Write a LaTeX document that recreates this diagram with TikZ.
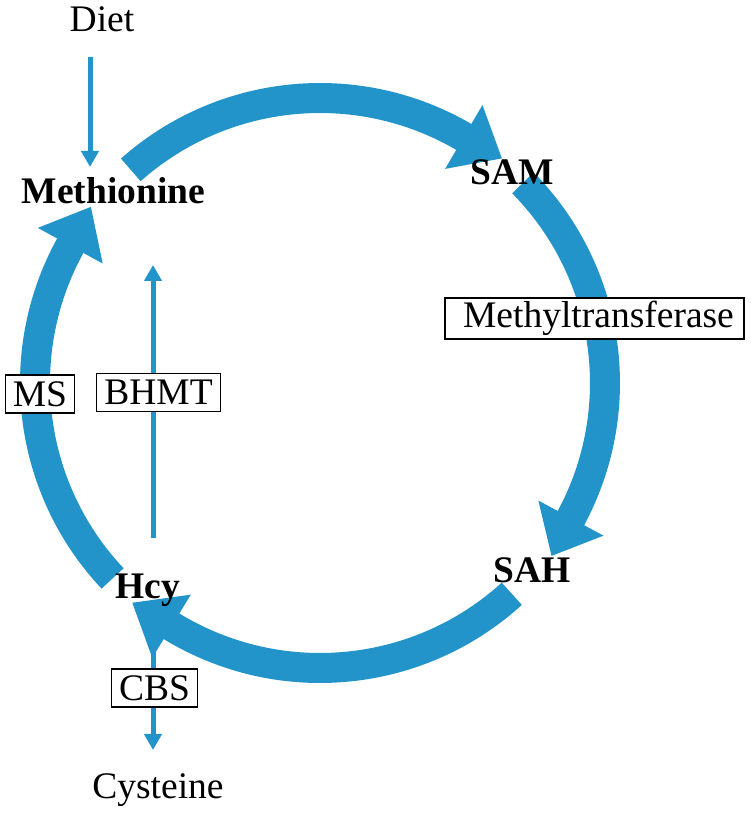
\documentclass[tikz,border=0pt]{standalone}
\usepackage{fontspec}
\setmainfont{Liberation Serif}
\usetikzlibrary{arrows.meta,calc}
\definecolor{cyc}{RGB}{35,148,201}
\newcommand\cycarrow[3]{%
  \draw[band] ($(C)+(#1:285)$) arc[start angle=#1, end angle=#2-1.5, radius=285];
  \fill[head] ($(C)+(#2:248)$) -- ($(C)+(#3:289)$) -- ($(C)+(#2:322)$) -- cycle;}
\begin{document}
\begin{tikzpicture}[x=1pt,y=1pt,
  band/.style={draw=cyc, line width=30pt},
  head/.style={fill=cyc},
  thinarrow/.style={draw=cyc, line width=5pt, -{Triangle[width=17pt,length=16pt]}},
  lbl/.style={font=\fontsize{37.5}{40}\selectfont, inner sep=0pt},
  metab/.style={font=\fontsize{37.5}{40}\selectfont\bfseries, inner sep=0pt},
  enz/.style={draw=black, line width=1.3pt, fill=white, font=\fontsize{37.5}{40}\selectfont,
              inner xsep=7.5pt, inner ysep=0pt, minimum height=38pt}]
\useasboundingbox (0,0) rectangle (750,814);
\coordinate (C) at (320,431);
% thin arrows
\coordinate (d0) at (90,757); \coordinate (d1) at (90,647);
\coordinate (b0) at (153,276); \coordinate (b1) at (153,549);
\coordinate (c0) at (153,189); \coordinate (c1) at (153,64);
\draw[thinarrow] (d0) -- (d1);
\draw[thinarrow] (b0) -- (b1);
\draw[thinarrow] (c0) -- (c1);
% cycle arrows
\cycarrow{131.6}{59.7}{51.0}
\cycarrow{44.6}{-28.3}{-36.75}
\cycarrow{-47.7}{-121.4}{-130.5}
\cycarrow{223.3}{151.2}{142.45}
% enzyme boxes
\node[enz, minimum width=299pt, minimum height=41pt] (mt) at (594.5,495.5) {\hspace{8pt}Methyltransferase};
\node[enz] (ms) at (40,420) {MS};
\node[enz] (bhmt) at (158.5,421.5) {BHMT};
\node[enz] (cbs) at (154.5,126) {CBS};
% metabolites
\node[lbl, anchor=base] (diet) at (102,782) {Diet};
\node[metab, anchor=base] (met) at (113.5,610) {Methionine};
\node[metab, anchor=base] (sam) at (512,629) {SAM};
\node[metab, anchor=base] (sah) at (532,231) {SAH};
\node[metab, anchor=base] (hcy) at (147.5,215) {Hcy};
\node[lbl, anchor=base] (cys) at (158,16) {Cysteine};
\end{tikzpicture}
\end{document}
